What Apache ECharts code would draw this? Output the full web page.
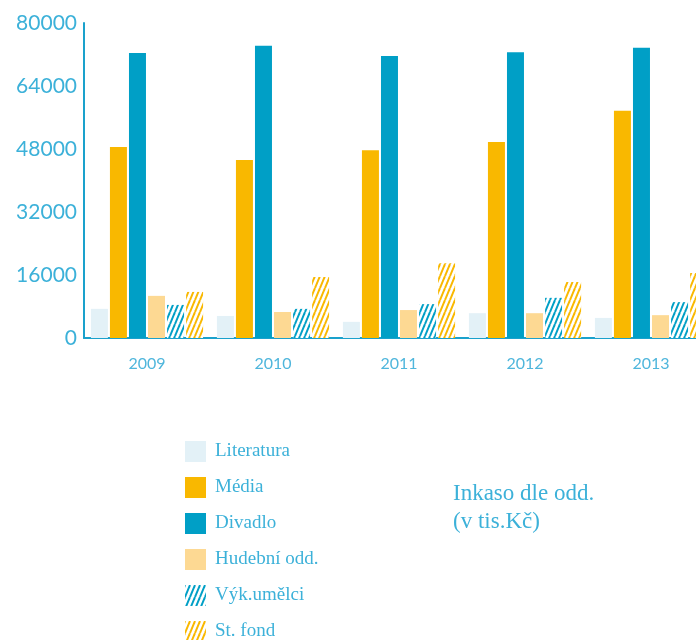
<!DOCTYPE html>
<html>
<head>
<meta charset="utf-8">
<script src="https://cdn.jsdelivr.net/npm/echarts@6/dist/echarts.min.js"></script>
<style>
  html, body { margin: 0; padding: 0; background: #fff; }
  #chart { width: 696px; height: 640px; }
</style>
</head>
<body>
<div id="chart"></div>
<script>
const years = ['2009', '2010', '2011', '2012', '2013'];
const literatura = [7400, 5600, 4100, 6300, 5100];
const media = [48500, 45200, 47700, 49800, 57700];
const divadlo = [72400, 74200, 71600, 72600, 73700];
const hudebni = [10700, 6600, 7100, 6300, 5800];
const vykUmelci = [8400, 7400, 8600, 10200, 9100];
const stFond = [11700, 15500, 19000, 14200, 16500];

const blue = '#009fc6';
const yellow = '#f9b800';
const textBlue = '#3cb1d9';

// diagonal stripes on white
function stripes(color) {
  const c = document.createElement('canvas');
  c.width = 5;
  c.height = 12;
  const ctx = c.getContext('2d');
  ctx.fillStyle = '#fff';
  ctx.fillRect(0, 0, 5, 12);
  ctx.strokeStyle = color;
  ctx.lineWidth = 2;
  [-5, 0, 5].forEach(x => {
    ctx.beginPath();
    ctx.moveTo(x, 12);
    ctx.lineTo(x + 5, 0);
    ctx.stroke();
  });
  return { image: c, repeat: 'repeat' };
}

const chart = echarts.init(document.getElementById('chart'));

const bar = (name, data, color) => ({
  name,
  type: 'bar',
  data,
  barWidth: 17,
  barGap: '12%',
  itemStyle: { color },
  emphasis: { disabled: true },
});

chart.setOption({
  animation: false,
  title: {
    text: 'Inkaso dle odd.\n(v tis.Kč)',
    left: 448,
    top: 475,
    textStyle: {
      color: textBlue,
      fontFamily: 'Liberation Serif',
      fontSize: 23,
      fontWeight: 'normal',
      lineHeight: 28,
    },
  },
  legend: {
    orient: 'vertical',
    left: 185,
    top: 441,
    height: 220,
    padding: 0,
    itemWidth: 21,
    itemHeight: 21,
    itemGap: 15,
    icon: 'rect',
    textStyle: {
      color: textBlue,
      fontFamily: 'Liberation Serif',
      fontSize: 19,
      padding: [0, 0, 0, 4],
    },
  },
  grid: {
    left: 84,
    width: 630,
    top: 23,
    bottom: 302,
    containLabel: false,
    outerBoundsMode: 'none',
  },
  xAxis: {
    type: 'category',
    data: years,
    axisLine: { lineStyle: { color: '#1aa1cc', width: 2 } },
    axisTick: { inside: true, length: 6, lineStyle: { color: '#1aa1cc', width: 2 } },
    axisLabel: {
      color: '#4fb6dc',
      fontFamily: 'Lato',
      fontSize: 16,
      margin: 18,
    },
  },
  yAxis: {
    type: 'value',
    min: 0,
    max: 80000,
    interval: 16000,
    axisLine: { show: true, lineStyle: { color: '#1aa1cc', width: 2 } },
    axisTick: { show: false },
    splitLine: { show: false },
    axisLabel: {
      color: textBlue,
      fontFamily: 'Lato',
      fontSize: 21,
      margin: 7,
      formatter: v => String(v),
    },
  },
  series: [
    bar('Literatura', literatura, '#e3f1f7'),
    bar('Média', media, yellow),
    bar('Divadlo', divadlo, blue),
    bar('Hudební odd.', hudebni, '#fdd993'),
    bar('Výk.umělci', vykUmelci, stripes(blue)),
    bar('St. fond', stFond, stripes(yellow)),
  ],
});
</script>
</body>
</html>
